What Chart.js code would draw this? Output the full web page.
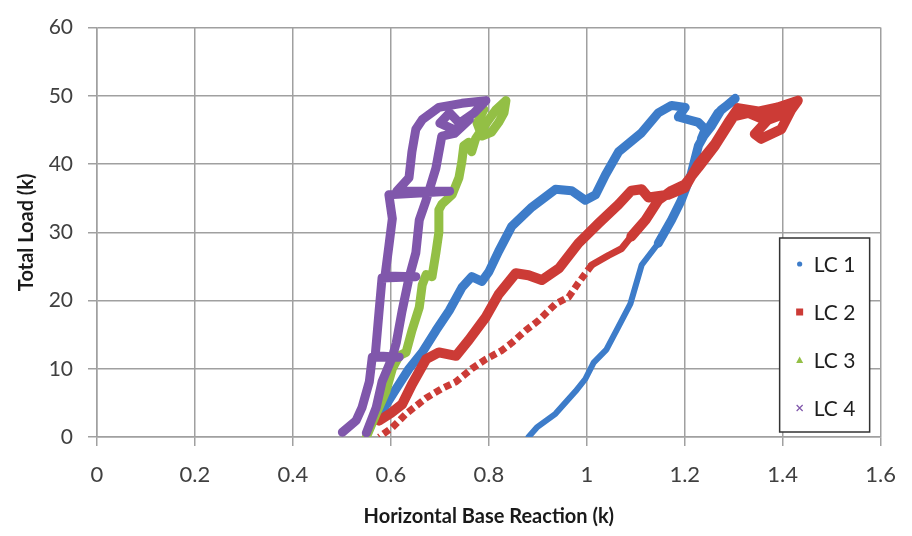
<!DOCTYPE html>
<html>
<head>
<meta charset="utf-8">
<script src="https://cdn.jsdelivr.net/npm/chart.js@4.4.1/dist/chart.umd.min.js"></script>
<style>
  html, body { margin: 0; padding: 0; background: #ffffff; }
  #wrap { width: 912px; height: 536px; position: relative; }
</style>
</head>
<body>
<div id="wrap"><canvas id="c" width="912" height="536"></canvas></div>
<script>
// ---------- DATA ----------
const seriesNames = ['LC 1', 'LC 2', 'LC 3', 'LC 4'];
const xTickLabels = ['0', '0.2', '0.4', '0.6', '0.8', '1', '1.2', '1.4', '1.6'];
const yTickLabels = ['0', '10', '20', '30', '40', '50', '60'];

const lc1X = [0.576, 0.611, 0.637, 0.664, 0.692, 0.719, 0.745, 0.765, 0.786, 0.800, 0.820, 0.847, 0.888, 0.936, 0.969, 0.997, 1.018, 1.038, 1.065, 1.112, 1.146, 1.173, 1.201, 1.187, 1.228, 1.242, 1.234, 1.254, 1.274, 1.299, 1.303,
              1.268, 1.242, 1.228, 1.213, 1.193, 1.173, 1.146, 1.112, 1.089, 1.065, 1.040, 1.014, 0.997, 0.977, 0.936, 0.898, 0.881];
const lc1Y = [3.1, 7.1, 10.0, 12.4, 15.6, 18.5, 21.9, 23.5, 22.8, 24.2, 27.2, 30.9, 33.7, 36.3, 36.1, 34.7, 35.5, 38.4, 41.8, 44.6, 47.5, 48.6, 48.3, 46.9, 46.1, 45.1, 43.7, 45.5, 47.9, 49.3, 49.6,
              47.5, 44.5, 42.7, 38.5, 34.7, 31.8, 28.4, 25.2, 19.5, 16.2, 12.8, 10.9, 8.5, 6.7, 3.4, 1.4, 0.0];

const lc2X = [0.576, 0.600, 0.623, 0.643, 0.672, 0.698, 0.733, 0.759, 0.794, 0.820, 0.855, 0.881, 0.908, 0.943, 0.983, 1.024, 1.065, 1.091, 1.112, 1.126, 1.166, 1.200, 1.228, 1.262, 1.289, 1.309, 1.350, 1.390, 1.431, 1.417, 1.397, 1.356, 1.343, 1.370, 1.400, 1.360, 1.330, 1.300, 1.262, 1.228, 1.200, 1.173,
              1.146, 1.120, 1.091, 1.071, 1.044, 1.010, 0.983, 0.963, 0.936, 0.902, 0.875, 0.847, 0.827, 0.794, 0.765, 0.733, 0.704, 0.672, 0.631, 0.603, 0.576];
const lc2Y = [2.4, 3.5, 4.8, 7.7, 11.4, 12.4, 11.9, 14.2, 17.6, 20.9, 24.0, 23.7, 23.0, 24.7, 28.4, 31.3, 34.1, 36.1, 36.3, 35.1, 35.5, 36.5, 40.0, 43.0, 46.1, 48.2, 47.7, 48.3, 49.3, 47.9, 45.1, 43.7, 44.4, 46.5, 47.3, 46.6, 47.5, 47.0, 42.7, 39.5, 37.0, 36.1,
              34.7, 31.8, 29.4, 27.6, 26.6, 25.2, 22.6, 20.5, 19.5, 17.1, 15.6, 13.8, 12.7, 11.4, 10.0, 8.1, 7.1, 5.7, 3.4, 1.4, 0.0];

const lc3X = [0.550, 0.570, 0.590, 0.603, 0.617, 0.631, 0.643, 0.658, 0.664, 0.672, 0.684, 0.692, 0.698, 0.698, 0.704, 0.725, 0.739, 0.745, 0.749, 0.759, 0.765, 0.773, 0.786, 0.800, 0.814, 0.835, 0.831, 0.820, 0.806, 0.786, 0.776, 0.790];
const lc3Y = [0.0, 3.4, 6.7, 10.0, 11.9, 12.4, 15.6, 19.0, 22.3, 23.8, 23.5, 27.0, 30.0, 33.3, 34.1, 35.5, 38.0, 40.4, 42.7, 43.2, 41.8, 43.7, 45.1, 46.5, 47.9, 49.3, 47.5, 46.1, 44.7, 44.1, 46.0, 48.0];

const lc4X = [0.501, 0.529, 0.541, 0.556, 0.562, 0.617, 0.568, 0.576, 0.582, 0.651, 0.588, 0.596, 0.603, 0.596, 0.720, 0.612, 0.637, 0.643, 0.651, 0.664, 0.698, 0.745, 0.794, 0.770, 0.740, 0.720, 0.700, 0.730, 0.760, 0.730, 0.704, 0.692, 0.672, 0.658, 0.651, 0.637, 0.623, 0.611, 0.603, 0.582, 0.570, 0.550];
const lc4Y = [0.7, 2.4, 4.3, 8.1, 11.7, 11.7, 11.9, 18.5, 23.3, 23.5, 23.6, 28.0, 32.0, 35.5, 36.0, 36.0, 38.0, 41.8, 45.1, 46.5, 48.3, 48.9, 49.3, 47.5, 46.0, 47.5, 46.0, 45.0, 46.5, 44.5, 44.1, 39.4, 34.7, 31.8, 27.0, 23.3, 18.5, 13.8, 11.7, 8.1, 4.3, 0.6];

// ---------- STYLE ----------
const colors = ['#3d7cc9', '#cc3b36', '#93bf45', '#8057ab'];
const markers = ['circle', 'rect', 'triangle', 'cross'];
const LC1_THIN_FROM = 37;  // LC 1 return branch drawn thinner from this index
const LC2_THIN_FROM = 44;  // LC 2 lower branch drawn thinner from this index
const LC2_DOT_FROM = 47;   // LC 2 lower branch looks dotted from this index

function toPoints(xs, ys) { return xs.map((x, i) => ({ x: x, y: ys[i] })); }

const datasets = [
  { label: seriesNames[0], data: toPoints(lc1X, lc1Y), borderColor: colors[0], backgroundColor: colors[0], borderWidth: 9, order: 4,
    segment: { borderWidth: ctx => ctx.p0DataIndex >= LC1_THIN_FROM ? 6 : 9 } },
  { label: seriesNames[1], data: toPoints(lc2X, lc2Y), borderColor: colors[1], backgroundColor: colors[1], borderWidth: 10, order: 3,
    segment: { borderWidth: ctx => ctx.p0DataIndex >= LC2_THIN_FROM ? 7 : 10,
               borderDash: ctx => ctx.p0DataIndex >= LC2_DOT_FROM ? [7, 4] : [],
               borderCapStyle: ctx => ctx.p0DataIndex >= LC2_DOT_FROM ? 'butt' : 'round' } },
  { label: seriesNames[2], data: toPoints(lc3X, lc3Y), borderColor: colors[2], backgroundColor: colors[2], borderWidth: 9, order: 2 },
  { label: seriesNames[3], data: toPoints(lc4X, lc4Y), borderColor: colors[3], backgroundColor: colors[3], borderWidth: 9, order: 1 }
].map(d => Object.assign({ showLine: true, pointRadius: 0, pointHoverRadius: 0, tension: 0,
                            borderJoinStyle: 'round', borderCapStyle: 'round', fill: false }, d));

// custom boxed legend inside the plot area
const boxLegend = {
  id: 'boxLegend',
  afterDraw(chart) {
    const ctx = chart.ctx;
    const area = chart.chartArea;
    const w = 90, h = 194;
    const left = area.right - 101, top = area.bottom - 199;
    ctx.save();
    ctx.fillStyle = '#ffffff';
    ctx.fillRect(left, top, w, h);
    ctx.strokeStyle = '#333333';
    ctx.lineWidth = 1.5;
    ctx.strokeRect(left, top, w, h);
    ctx.font = '21px Lato, "Open Sans", sans-serif';
    ctx.textBaseline = 'middle';
    ctx.textAlign = 'left';
    chart.data.datasets.forEach((ds, i) => {
      const cy = top + 26 + i * 48;
      const mx = left + 20;
      ctx.fillStyle = colors[i];
      ctx.strokeStyle = colors[i];
      ctx.lineWidth = 1.2;
      if (markers[i] === 'circle') {
        ctx.beginPath(); ctx.arc(mx, cy, 2.6, 0, Math.PI * 2); ctx.fill();
      } else if (markers[i] === 'rect') {
        ctx.fillRect(mx - 3.5, cy - 3.5, 7, 7);
      } else if (markers[i] === 'triangle') {
        ctx.beginPath(); ctx.moveTo(mx, cy - 3.5); ctx.lineTo(mx + 3.5, cy + 3); ctx.lineTo(mx - 3.5, cy + 3); ctx.closePath(); ctx.fill();
      } else {
        ctx.beginPath(); ctx.moveTo(mx - 3, cy - 3); ctx.lineTo(mx + 3, cy + 3); ctx.moveTo(mx + 3, cy - 3); ctx.lineTo(mx - 3, cy + 3); ctx.stroke();
      }
      ctx.fillStyle = '#1e1e1e';
      ctx.fillText(ds.label, left + 34, cy + 1);
    });
    ctx.restore();
  }
};

const gridColor = '#a0a0a0';

new Chart(document.getElementById('c'), {
  type: 'scatter',
  data: { datasets: datasets },
  options: {
    responsive: false,
    animation: false,
    events: [],
    layout: { padding: { left: 0, right: 29, top: 15, bottom: 0 } },
    plugins: { legend: { display: false }, tooltip: { enabled: false } },
    scales: {
      x: {
        type: 'linear', min: 0, max: 1.6,
        afterBuildTicks: s => { s.ticks = xTickLabels.map(t => ({ value: parseFloat(t) })); },
        afterFit: s => { s.height = 99; },
        ticks: { callback: (v, i) => xTickLabels[i], color: '#404040', font: { family: 'Lato', size: 22 }, padding: 16, maxRotation: 0, autoSkip: false },
        grid: { color: gridColor, lineWidth: 1.5, tickLength: 9, drawTicks: true },
        border: { color: gridColor, width: 1.5 },
        title: { display: true, text: 'Horizontal Base Reaction (k)', color: '#1a1a1a', font: { family: 'Lato', size: 20, weight: 'bold' }, padding: { top: 0, bottom: 7 } }
      },
      y: {
        type: 'linear', min: 0, max: 60,
        afterBuildTicks: s => { s.ticks = yTickLabels.map(t => ({ value: parseFloat(t) })); },
        afterFit: s => { s.width = 97; },
        ticks: { callback: (v, i) => yTickLabels[i], color: '#404040', font: { family: 'Lato', size: 21 }, padding: 15, autoSkip: false },
        grid: { color: gridColor, lineWidth: 1.5, tickLength: 9, drawTicks: true },
        border: { color: gridColor, width: 1.5 },
        title: { display: true, text: 'Total Load (k)', color: '#1a1a1a', font: { family: 'Lato', size: 20, weight: 'bold' }, padding: { top: 15, bottom: 0 } }
      }
    }
  },
  plugins: [boxLegend]
});
</script>
</body>
</html>
